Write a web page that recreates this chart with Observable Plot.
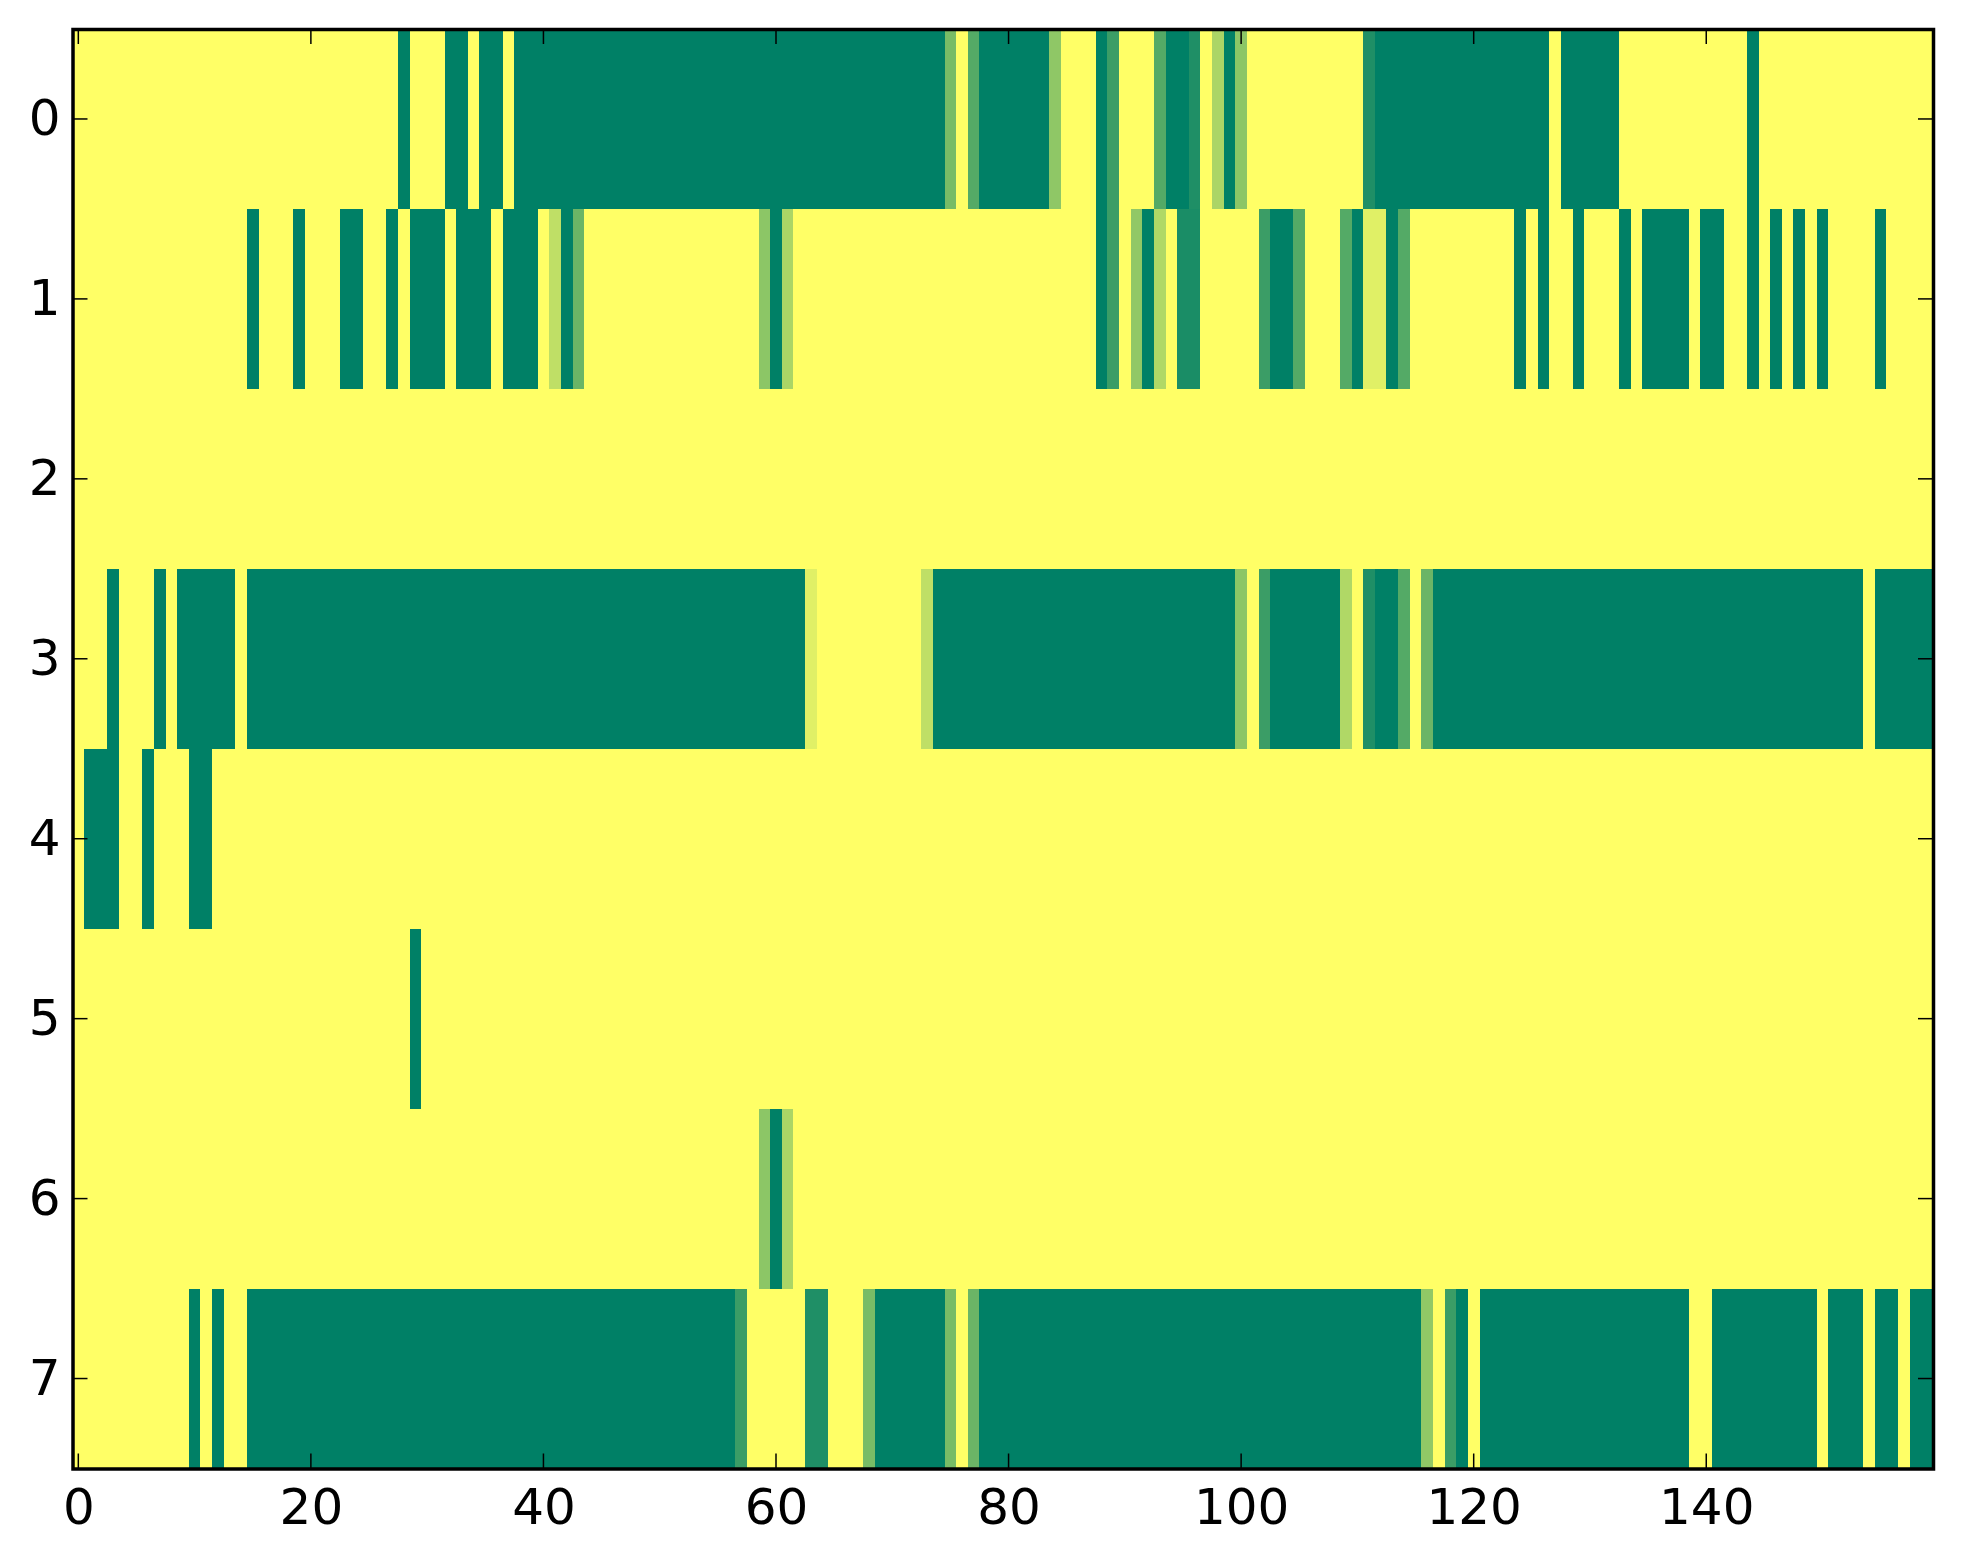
<!DOCTYPE html>
<html>
<head>
<meta charset="utf-8">
<script src="https://cdn.jsdelivr.net/npm/d3@7"></script>
<script src="https://cdn.jsdelivr.net/npm/@observablehq/plot@0.6"></script>
<style>
  html, body { margin: 0; padding: 0; background: #ffffff; overflow: hidden; }
  #chart svg { display: block; }
</style>
</head>
<body>
<div id="chart"></div>
<script>
// ---- data ----
// 8 rows x 160 columns; cells not listed have value 1 (yellow).
// Each run: [firstColumn, lastColumn, value]
const nCols = 160;
const rowLabels = [0, 1, 2, 3, 4, 5, 6, 7];
const xTicks = [0, 20, 40, 60, 80, 100, 120, 140];

const row0 = [[28,28,0],[32,33,0],[35,36,0],[38,74,0],[75,75,0.47],[77,77,0.33],[78,83,0],
  [84,84,0.56],[88,88,0],[89,89,0.23],[93,93,0.33],[94,95,0],[96,96,0.12],[98,98,0.67],
  [99,99,0],[100,100,0.55],[111,111,0.12],[112,126,0],[128,132,0],[144,144,0]];
const row1 = [[15,15,0],[19,19,0],[23,24,0],[27,27,0],[29,31,0],[33,35,0],[37,39,0],
  [41,41,0.75],[42,42,0],[43,43,0.42],[59,59,0.55],[60,60,0],[61,61,0.67],[88,88,0],
  [89,89,0.23],[91,91,0.57],[92,92,0],[93,93,0.69],[95,96,0.1],[102,102,0.23],[103,104,0],
  [105,105,0.33],[109,109,0.33],[110,110,0],[111,112,0.88],[113,113,0],[114,114,0.33],
  [124,124,0],[126,126,0],[129,129,0],[133,133,0],[135,138,0],[140,141,0],[144,144,0],
  [146,146,0],[148,148,0],[150,150,0],[155,155,0]];
const row2 = [];
const row3 = [[3,3,0],[7,7,0],[9,13,0],[15,62,0],[63,63,0.88],[73,73,0.75],[74,99,0],
  [100,100,0.55],[102,102,0.23],[103,108,0],[109,109,0.69],[111,111,0.12],[112,113,0],
  [114,114,0.33],[116,116,0.42],[117,153,0],[155,159,0]];
const row4 = [[1,3,0],[6,6,0],[10,11,0]];
const row5 = [[29,29,0]];
const row6 = [[59,59,0.55],[60,60,0],[61,61,0.67]];
const row7 = [[10,10,0],[12,12,0],[15,56,0],[57,57,0.23],[63,64,0.12],[68,68,0.47],[69,74,0],
  [75,75,0.47],[77,77,0.42],[78,115,0],[116,116,0.57],[118,118,0.23],[119,119,0],[121,138,0],
  [141,149,0],[151,153,0],[155,156,0],[158,159,0]];

const rows = [row0, row1, row2, row3, row4, row5, row6, row7];

// expand runs to cells, then merge equal neighbours into horizontal segments
const segments = [];
rows.forEach((runs, r) => {
  const vals = new Array(nCols).fill(1);
  runs.forEach(([a, b, v]) => { for (let c = a; c <= b; c++) vals[c] = v; });
  let start = 0;
  for (let c = 1; c <= nCols; c++) {
    if (c === nCols || vals[c] !== vals[start]) {
      segments.push({row: rowLabels[r], c1: start, c2: c - 1, value: vals[start]});
      start = c;
    }
  }
});

// ---- chart ----
const W = 1963, H = 1564;
const mL = 72.5, mR = 30, mT = 29, mB = 95.5;
const tickLen = 15;

function inwardTicks(index, scales, values, dims) {
  const g = d3.create("svg:g")
    .attr("stroke", "black").attr("stroke-width", 1.5).attr("fill", "none");
  const top = dims.marginTop, bottom = dims.height - dims.marginBottom;
  const left = dims.marginLeft, right = dims.width - dims.marginRight;
  for (const t of xTicks) {
    const px = scales.x(t);
    g.append("line").attr("x1", px).attr("x2", px).attr("y1", bottom).attr("y2", bottom - tickLen);
    g.append("line").attr("x1", px).attr("x2", px).attr("y1", top).attr("y2", top + tickLen);
  }
  for (const t of rowLabels) {
    const py = scales.y(t);
    g.append("line").attr("y1", py).attr("y2", py).attr("x1", left).attr("x2", left + tickLen);
    g.append("line").attr("y1", py).attr("y2", py).attr("x1", right).attr("x2", right - tickLen);
  }
  return g.node();
}

const chart = Plot.plot({
  width: W,
  height: H,
  marginLeft: mL,
  marginRight: mR,
  marginTop: mT,
  marginBottom: mB,
  style: {fontFamily: "'DejaVu Sans', sans-serif", fontSize: "50px", background: "#ffffff", color: "black"},
  x: {domain: [-0.5, nCols - 0.5]},
  y: {domain: [-0.5, rowLabels.length - 0.5], reverse: true},
  color: {type: "linear", domain: [0, 1], range: ["rgb(0,128,102)", "rgb(255,255,102)"], interpolate: "rgb"},
  marks: [
    Plot.rect(segments, {
      x1: d => d.c1 - 0.5,
      x2: d => d.c2 + 0.5,
      y1: d => d.row - 0.5,
      y2: d => d.row + 0.5,
      fill: "value",
      shapeRendering: "crispEdges"
    }),
    Plot.axisX({ticks: xTicks, anchor: "bottom", tickSize: 0, tickPadding: 19, fontSize: 50,
      tickFormat: d => String(d), label: null}),
    Plot.axisY({ticks: rowLabels, anchor: "left", tickSize: 0, tickPadding: 12.5, fontSize: 50,
      tickFormat: d => String(d), label: null}),
    inwardTicks,
    Plot.frame({stroke: "black", strokeWidth: 3.5})
  ]
});

document.getElementById("chart").appendChild(chart);
</script>
</body>
</html>
